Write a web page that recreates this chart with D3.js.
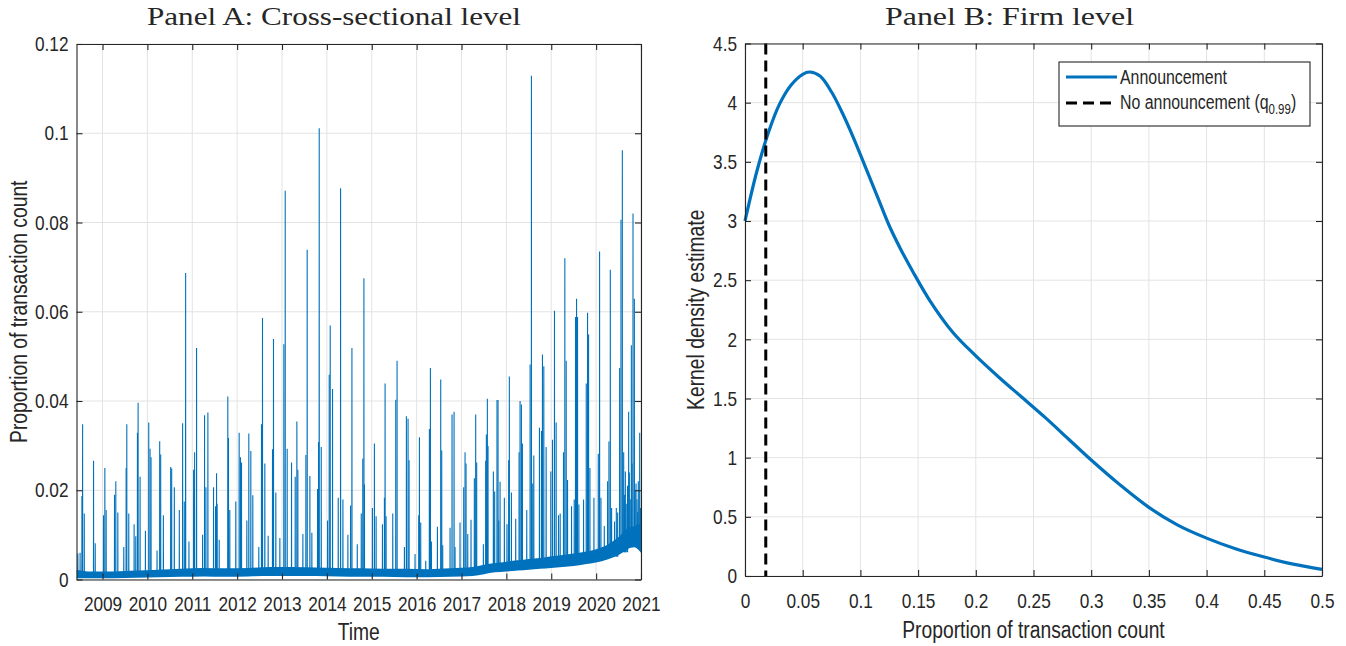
<!DOCTYPE html>
<html>
<head>
<meta charset="utf-8">
<script src="https://cdn.jsdelivr.net/npm/d3@7"></script>
<style>
  body { margin: 0; background: #fff; }
  svg text { fill: #262626; }
</style>
</head>
<body>
<svg id="chart" width="1346" height="646"></svg>
<script>
/**
 * DATA
 * */
// Panel A: quarterly spikes (decimal year, peak proportion)
const spikeYears = [
  2008.45,2008.50,2008.541,2008.556,2008.593,2008.80,2008.837,2009.022,2009.052,2009.081,
  2009.267,2009.296,2009.341,2009.474,2009.526,2009.541,2009.585,2009.704,2009.741,2009.778,
  2009.793,2009.837,2009.956,2010.03,2010.059,2010.081,2010.215,2010.274,2010.296,2010.356,
  2010.519,2010.541,2010.60,2010.711,2010.785,2010.822,2010.852,2010.926,2011.03,2011.052,
  2011.096,2011.23,2011.274,2011.304,2011.348,2011.474,2011.519,2011.541,2011.554,2011.60,
  2011.792,2011.807,2011.836,2011.97,2012.045,2012.074,2012.097,2012.216,2012.26,2012.305,
  2012.349,2012.483,2012.543,2012.565,2012.617,2012.691,2012.788,2012.81,2012.862,2012.952,
  2013.041,2013.071,2013.115,2013.212,2013.294,2013.331,2013.353,2013.465,2013.532,2013.561,
  2013.621,2013.665,2013.792,2013.814,2013.829,2013.874,2014.015,2014.052,2014.074,2014.126,
  2014.253,2014.305,2014.357,2014.468,2014.528,2014.558,2014.677,2014.766,2014.80,2014.825,
  2014.837,2015.015,2015.059,2015.097,2015.238,2015.282,2015.297,2015.319,2015.468,2015.535,
  2015.564,2015.728,2015.772,2015.809,2015.831,2015.965,2016.047,2016.062,2016.091,2016.203,
  2016.284,2016.307,2016.329,2016.463,2016.537,2016.559,2016.581,2016.745,2016.789,2016.834,
  2016.856,2016.967,2017.049,2017.079,2017.101,2017.139,2017.212,2017.286,2017.316,2017.338,
  2017.487,2017.539,2017.554,2017.576,2017.591,2017.71,2017.739,2017.791,2017.814,2017.829,
  2017.859,2017.955,2018.014,2018.051,2018.066,2018.112,2018.208,2018.283,2018.305,2018.335,
  2018.357,2018.454,2018.529,2018.558,2018.588,2018.611,2018.737,2018.782,2018.804,2018.834,
  2018.886,2018.99,2019.028,2019.072,2019.109,2019.162,2019.199,2019.273,2019.303,2019.333,
  2019.363,2019.452,2019.512,2019.541,2019.564,2019.586,2019.616,2019.72,2019.78,2019.809,
  2019.832,2019.862,2019.951,2020.048,2020.077,2020.107,2020.182,2020.256,2020.286,2020.316,
  2020.345,2020.41,2020.45,2020.48,2020.524,2020.554,2020.584,2020.614,2020.63,2020.651,
  2020.67,2020.70,2020.725,2020.74,2020.76,2020.785,2020.80,2020.822,2020.852,2020.87,
  2020.889,2020.91,2020.926,2020.94,2020.971,2020.99
];
const spikePeaks = [
  0.0058,0.006,0.0187,0.0348,0.0148,0.0266,0.0081,0.0144,0.025,0.0156,
  0.019,0.022,0.015,0.0073,0.025,0.0348,0.0148,0.0124,0.0097,0.0329,
  0.0396,0.023,0.0109,0.0352,0.0293,0.0274,0.0065,0.031,0.028,0.0144,
  0.0252,0.0249,0.0207,0.0156,0.035,0.0175,0.0687,0.0085,0.0246,0.0285,
  0.0519,0.01,0.0368,0.0207,0.0374,0.0207,0.0164,0.0238,0.017,0.0089,
  0.041,0.0317,0.0156,0.0175,0.0329,0.0274,0.0262,0.0132,0.0327,0.0288,
  0.0189,0.0073,0.0348,0.0586,0.026,0.0098,0.0292,0.0539,0.0195,0.0093,
  0.0527,0.0871,0.0293,0.0262,0.023,0.0354,0.0246,0.0102,0.0279,0.0739,
  0.0232,0.0105,0.0203,0.0308,0.1011,0.0297,0.0132,0.0459,0.0569,0.0427,
  0.0183,0.0877,0.0179,0.01,0.0166,0.0519,0.0079,0.0148,0.0271,0.0675,
  0.0213,0.016,0.0305,0.0142,0.0124,0.0183,0.0439,0.0142,0.0148,0.0403,
  0.049,0.0073,0.0366,0.036,0.0267,0.0057,0.0144,0.0319,0.0128,0.0042,
  0.0337,0.0474,0.0085,0.0118,0.0448,0.0289,0.0077,0.0116,0.037,0.0376,
  0.0073,0.0128,0.0207,0.0285,0.026,0.0102,0.0134,0.0227,0.037,0.0262,
  0.0079,0.0266,0.0325,0.0405,0.0299,0.0242,0.0197,0.0402,0.0402,0.0132,
  0.0219,0.0183,0.0124,0.0267,0.0455,0.0195,0.0136,0.0285,0.04,0.0392,
  0.0305,0.0156,0.0482,0.1129,0.0215,0.0278,0.034,0.0333,0.0504,0.0478,
  0.0297,0.0242,0.0313,0.0602,0.0352,0.0144,0.0148,0.0285,0.072,0.049,
  0.0223,0.0164,0.0179,0.0588,0.0629,0.0588,0.0168,0.0179,0.0439,0.0598,
  0.0549,0.025,0.0183,0.0282,0.0735,0.0183,0.012,0.022,0.0309,0.0694,
  0.016,0.013,0.016,0.015,0.0474,0.0806,0.0962,0.0285,0.019,0.0242,
  0.017,0.021,0.0376,0.024,0.018,0.0525,0.026,0.082,0.0629,0.02,
  0.0215,0.018,0.0152,0.022,0.0329,0.016
];
// Panel A: daily noise band (decimal year, lower and upper envelope)
const bandYears = [2008.42,2008.75,2009.25,2009.75,2010.25,2010.75,2011.25,2011.75,2012.25,2012.75,
  2013.25,2013.75,2014.25,2014.75,2015.25,2015.75,2016.25,2016.75,2017.25,2017.5,
  2017.75,2018.0,2018.25,2018.5,2018.75,2019.0,2019.25,2019.5,2019.75,2020.0,
  2020.25,2020.5,2020.7,2020.85,2021.0];
const bandLow = [0.0003,0.0003,0.0003,0.0004,0.0005,0.0006,0.0007,0.0006,0.0007,0.0008,
  0.0008,0.0008,0.0007,0.0006,0.0006,0.0005,0.0005,0.0006,0.0008,0.0012,
  0.0016,0.0018,0.002,0.0022,0.0024,0.0026,0.0028,0.003,0.0034,0.0038,
  0.0045,0.0055,0.0068,0.0072,0.006];
const bandHigh = [0.0022,0.0018,0.0018,0.002,0.0022,0.0024,0.0026,0.0025,0.0026,0.0028,
  0.0028,0.0027,0.0026,0.0025,0.0024,0.0024,0.0023,0.0025,0.0028,0.0033,
  0.0037,0.004,0.0043,0.0046,0.0048,0.0052,0.0055,0.0058,0.0062,0.0068,
  0.0078,0.0095,0.0115,0.012,0.0125];
const yearTicks = d3.range(2009, 2022);
const propTicks = [0, 0.02, 0.04, 0.06, 0.08, 0.1, 0.12];

// Panel B: kernel density of proportion of transaction count
const kdeX = [0,0.01,0.02,0.03,0.04,0.05,0.056,0.065,0.075,0.085,
  0.095,0.105,0.115,0.125,0.135,0.145,0.16,0.18,0.2,0.22,
  0.24,0.26,0.28,0.3,0.325,0.35,0.375,0.4,0.425,0.45,
  0.475,0.5];
const kdeY = [3.0,3.41,3.74,3.99,4.15,4.24,4.259,4.225,4.09,3.9,
  3.68,3.44,3.2,2.96,2.76,2.58,2.33,2.06,1.86,1.68,
  1.51,1.34,1.16,0.98,0.77,0.58,0.43,0.32,0.23,0.16,
  0.10,0.056];
const noAnnQ99 = 0.018;
const densTicks = d3.range(0, 4.51, 0.5);
const shareTicks = d3.range(0, 0.5001, 0.05);

/**
 * CONSTANTS
 * */
const blue = "#0072BD", axisCol = "#262626", gridCol = "#e3e3e3";
const sansFont = "'Liberation Sans',Arial,sans-serif";
const serifFont = "'Liberation Serif','Times New Roman',serif";
const narrow = 0.82; // condensed Helvetica look
const tickLen = 6;
const fmt = d3.format("~g");

const svg = d3.select("#chart");

function grid(g, x, y, xTicks, yTicks, box) {
  g.append("g").selectAll("line").data(xTicks).join("line")
    .attr("x1", d => x(d)).attr("x2", d => x(d))
    .attr("y1", box.top).attr("y2", box.bottom)
    .attr("stroke", gridCol).attr("stroke-width", 1);
  g.append("g").selectAll("line").data(yTicks).join("line")
    .attr("x1", box.left).attr("x2", box.right)
    .attr("y1", d => y(d)).attr("y2", d => y(d))
    .attr("stroke", gridCol).attr("stroke-width", 1);
}

function axes(g, x, y, xTicks, yTicks, xFmt, yFmt, box) {
  const styleAxis = sel => {
    sel.selectAll(".domain").attr("stroke", axisCol).attr("stroke-width", 1.1);
    sel.selectAll(".tick line").attr("stroke", axisCol).attr("stroke-width", 1.1);
    sel.selectAll(".tick text").attr("class", "narrow")
      .attr("font-family", sansFont).attr("font-size", 21).attr("fill", axisCol);
  };
  g.append("g").attr("transform", `translate(0,${box.bottom})`)
    .call(d3.axisBottom(x).tickValues(xTicks).tickFormat(xFmt).tickSizeInner(-tickLen).tickSizeOuter(0).tickPadding(17))
    .call(styleAxis);
  g.append("g").attr("transform", `translate(0,${box.top})`)
    .call(d3.axisTop(x).tickValues(xTicks).tickFormat("").tickSizeInner(-tickLen).tickSizeOuter(0))
    .call(styleAxis);
  g.append("g").attr("transform", `translate(${box.left},0)`)
    .call(d3.axisLeft(y).tickValues(yTicks).tickFormat(yFmt).tickSizeInner(-tickLen).tickSizeOuter(0).tickPadding(8))
    .call(styleAxis);
  g.append("g").attr("transform", `translate(${box.right},0)`)
    .call(d3.axisRight(y).tickValues(yTicks).tickFormat("").tickSizeInner(-tickLen).tickSizeOuter(0))
    .call(styleAxis);
}

/**
 * PANEL A
 * */
const boxA = { left: 76.5, right: 641, top: 44, bottom: 579.5 };
const xA = d3.scaleLinear().domain([2008.42, 2021.0]).range([boxA.left, boxA.right]);
const yA = d3.scaleLinear().domain([0, 0.12]).range([boxA.bottom, boxA.top]);
const gA = svg.append("g");
grid(gA, xA, yA, yearTicks, propTicks, boxA);

const band = bandYears.map((t, i) => ({ t, lo: bandLow[i], hi: bandHigh[i] }));
const bis = d3.bisector(d => d.t).left;
svg.append("clipPath").attr("id", "clipA").append("rect")
  .attr("x", boxA.left).attr("y", boxA.top)
  .attr("width", boxA.right - boxA.left).attr("height", boxA.bottom - boxA.top);

const plotA = gA.append("g").attr("clip-path", "url(#clipA)");
plotA.append("path")
  .datum(band)
  .attr("fill", blue)
  .attr("d", d3.area().x(d => xA(d.t)).y0(d => yA(d.lo)).y1(d => yA(d.hi)).curve(d3.curveMonotoneX));

const spikes = spikeYears.map((t, i) => {
  const b = band[Math.max(0, Math.min(band.length - 1, bis(band, t) - 1))];
  return [{ t: t - 0.002, v: b.lo + 0.0006 }, { t, v: spikePeaks[i] }, { t: t + 0.002, v: b.lo + 0.0006 }];
});
const lineA = d3.line().x(d => xA(d.t)).y(d => yA(d.v));
plotA.selectAll("path.spike").data(spikes).join("path")
  .attr("class", "spike")
  .attr("fill", "none").attr("stroke", blue).attr("stroke-width", 1.1)
  .attr("d", lineA);

axes(gA, xA, yA, yearTicks, propTicks, d3.format("d"), fmt, boxA);

gA.append("text").attr("class", "narrow")
  .attr("x", (boxA.left + boxA.right) / 2).attr("y", 640)
  .attr("text-anchor", "middle").attr("font-family", sansFont).attr("font-size", 23.5)
  .text("Time");
gA.append("text").attr("class", "narrow")
  .attr("transform", `translate(27,${(boxA.top + boxA.bottom) / 2}) rotate(-90)`)
  .attr("text-anchor", "middle").attr("font-family", sansFont).attr("font-size", 23.5)
  .text("Proportion of transaction count");
gA.append("text").attr("x", 334).attr("y", 25)
  .attr("text-anchor", "middle").attr("font-family", serifFont).attr("font-size", 26)
  .attr("textLength", 374).attr("lengthAdjust", "spacingAndGlyphs").attr("fill", "#000")
  .text("Panel A: Cross-sectional level");

/**
 * PANEL B
 * */
const boxB = { left: 745, right: 1322, top: 43.5, bottom: 576 };
const xB = d3.scaleLinear().domain([0, 0.5]).range([boxB.left, boxB.right]);
const yB = d3.scaleLinear().domain([0, 4.5]).range([boxB.bottom, boxB.top]);
const gB = svg.append("g");
grid(gB, xB, yB, shareTicks, densTicks, boxB);

const kde = kdeX.map((x, i) => ({ x, y: kdeY[i] }));
gB.append("path").datum(kde)
  .attr("fill", "none").attr("stroke", blue).attr("stroke-width", 3.2)
  .attr("d", d3.line().x(d => xB(d.x)).y(d => yB(d.y)).curve(d3.curveCatmullRom.alpha(0.5)));
gB.append("line")
  .attr("x1", xB(noAnnQ99)).attr("x2", xB(noAnnQ99))
  .attr("y1", yB(4.5)).attr("y2", yB(0))
  .attr("stroke", "#000").attr("stroke-width", 3).attr("stroke-dasharray", "11,6");

axes(gB, xB, yB, shareTicks, densTicks, fmt, fmt, boxB);

gB.append("text").attr("class", "narrow")
  .attr("x", (boxB.left + boxB.right) / 2).attr("y", 638)
  .attr("text-anchor", "middle").attr("font-family", sansFont).attr("font-size", 23.5)
  .text("Proportion of transaction count");
gB.append("text").attr("class", "narrow")
  .attr("transform", `translate(704,${(boxB.top + boxB.bottom) / 2}) rotate(-90)`)
  .attr("text-anchor", "middle").attr("font-family", sansFont).attr("font-size", 23.5)
  .text("Kernel density estimate");
gB.append("text").attr("x", 1009.5).attr("y", 25)
  .attr("text-anchor", "middle").attr("font-family", serifFont).attr("font-size", 26)
  .attr("textLength", 249).attr("lengthAdjust", "spacingAndGlyphs").attr("fill", "#000")
  .text("Panel B: Firm level");

// legend
const leg = gB.append("g").attr("transform", "translate(1059,62)");
leg.append("rect").attr("width", 251).attr("height", 64)
  .attr("fill", "#fff").attr("stroke", axisCol).attr("stroke-width", 1.1);
leg.append("line").attr("x1", 7).attr("x2", 58).attr("y1", 15).attr("y2", 15)
  .attr("stroke", blue).attr("stroke-width", 3.2);
leg.append("line").attr("x1", 7).attr("x2", 58).attr("y1", 41).attr("y2", 41)
  .attr("stroke", "#000").attr("stroke-width", 3).attr("stroke-dasharray", "11,6");
leg.append("text").attr("class", "narrow").attr("x", 61).attr("y", 22)
  .attr("font-family", sansFont).attr("font-size", 19.4).text("Announcement");
const t2 = leg.append("g").attr("transform", `translate(61,47) scale(${narrow},1)`)
  .append("text").attr("font-family", sansFont).attr("font-size", 19.4);
t2.append("tspan").text("No announcement (q");
t2.append("tspan").attr("font-size", 14).attr("dy", 5).text("0.99");
t2.append("tspan").attr("dy", -5).text(")");

// squeeze sans text to a condensed width
svg.selectAll("text.narrow").each(function() {
  const w = this.getComputedTextLength();
  d3.select(this).attr("textLength", w * narrow).attr("lengthAdjust", "spacingAndGlyphs");
});
</script>
</body>
</html>
